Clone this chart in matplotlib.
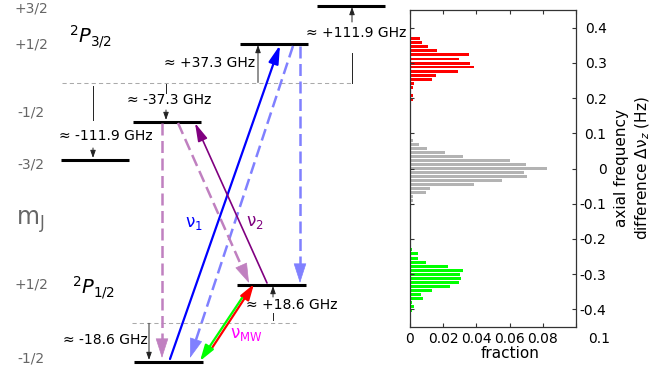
"""Fine-structure level scheme of the 2P states with a histogram of axial frequency differences."""

import numpy as np
import matplotlib

matplotlib.use("Agg")
import matplotlib.pyplot as plt
from matplotlib.transforms import ScaledTranslation

plt.rcParams["axes.unicode_minus"] = False
plt.rcParams["font.family"] = ["DejaVu Sans"]

# ---- histogram data (bin centre in Hz, fraction of events) ----
red_center = [0.370, 0.358, 0.347, 0.336, 0.323, 0.311, 0.299, 0.288, 0.276,
              0.265, 0.253, 0.242, 0.230, 0.208, 0.196]
red_frac = [0.0061, 0.0071, 0.0107, 0.0162, 0.0356, 0.0295, 0.0362, 0.0386, 0.0289,
            0.0156, 0.0131, 0.0022, 0.0016, 0.0016, 0.0016]

grey_center = [0.080, 0.068, 0.057, 0.045, 0.034, 0.023, 0.011, 0.0, -0.011,
               -0.023, -0.034, -0.046, -0.057, -0.068, -0.080, -0.091]
grey_frac = [0.0016, 0.0055, 0.0101, 0.0212, 0.0319, 0.0600, 0.0697, 0.0828, 0.0689,
             0.0707, 0.0556, 0.0386, 0.0119, 0.0095, 0.0016, 0.0016]

green_center = [-0.185, -0.219, -0.230, -0.242, -0.255, -0.267, -0.278, -0.289, -0.301,
                -0.312, -0.324, -0.335, -0.346, -0.358, -0.369, -0.380, -0.392, -0.403,
                -0.415, -0.426]
green_frac = [0.0004, 0.0008, 0.0012, 0.0048, 0.0048, 0.0097, 0.0230, 0.0321, 0.0303,
              0.0309, 0.0297, 0.0242, 0.0133, 0.0067, 0.0079, 0.0012, 0.0024, 0.0010,
              0.0005, 0.0005]

x_ticks = [0, 0.02, 0.04, 0.06, 0.08, 0.1]
x_tick_labels = ["0", "0.02", "0.04", "0.06", "0.08", ""]
y_ticks = [0.4, 0.3, 0.2, 0.1, 0, -0.1, -0.2, -0.3, -0.4]
y_tick_labels = ["0.4", "0.3", "0.2", "0.1", "0", "-0.1", "-0.2", "-0.3", "-0.4"]

# ---- level scheme (schematic, panel units = pixels, y downwards) ----
level_x0 = [317, 240, 133, 61, 237, 134]
level_x1 = [385, 308, 201, 129, 306, 203]
level_y = [5.5, 43.5, 121.5, 159.5, 284.5, 361.5]

mj_labels = ["+3/2", "+1/2", "-1/2", "-3/2", "+1/2", "-1/2"]
mj_y = [8, 44, 113, 165, 284, 358]

center_y = [82.5, 323.3]
center_x0 = [62, 132]
center_x1 = [352, 296]

shift_labels = ["≈ +111.9 GHz", "≈ +37.3 GHz", "≈ -37.3 GHz",
                "≈ -111.9 GHz", "≈ +18.6 GHz", "≈ -18.6 GHz"]
shift_x = [352, 258, 166, 93, 273, 149]
shift_from = [82.5, 82.5, 84, 86, 320, 323.3]
shift_to = [7, 45, 120, 158, 286, 360]
shift_gap = [(53, 22), None, (93, 110), (120, 148), (313, 297), None]
shift_text_x = [356, 210, 169, 106, 292, 105]
shift_text_y = [33, 63, 100, 136, 305, 340]

# transitions: start, end, colour, dashed, linewidth
transitions = [
    ((293, 46), (190, 358), "#8080ff", True, 1.8),
    ((300, 46), (300, 283), "#8080ff", True, 1.8),
    ((162, 123), (162, 358), "#c080c0", True, 1.8),
    ((178, 123), (249, 283), "#c080c0", True, 1.8),
    ((170, 359), (280, 45), "#0000ff", False, 1.6),
    ((267, 283), (195, 123), "#800080", False, 1.2),
    ((212, 348), (254, 284), "#ff0000", False, 1.6),
    ((242, 298), (200, 361), "#00ff00", False, 1.6),
]


def draw_arrow(ax, start, end, color, lw, dashed=False, head=(1.25, 0.45), zorder=3):
    """Draw an arrow with a filled head; dashed body keeps a solid head."""
    x0, y0 = start
    x1, y1 = end
    hl, hw = head
    if dashed:
        length = np.hypot(x1 - x0, y1 - y0)
        ux, uy = (x1 - x0) / length, (y1 - y0) / length
        head_px = hl * 10 * 100 / 72
        bx, by = x1 - ux * head_px, y1 - uy * head_px
        ax.plot([x0, bx], [y0, by], color=color, lw=lw, ls=(0, (4.8, 2.2)),
                dash_capstyle="butt", zorder=zorder)
        start = (bx - ux * 0.5, by - uy * 0.5)
        lw = 0.5
    ax.annotate("", xy=end, xytext=start,
                arrowprops=dict(arrowstyle=f"-|>,head_length={hl},head_width={hw}",
                                color=color, lw=lw, shrinkA=0, shrinkB=0,
                                mutation_scale=10),
                zorder=zorder)


def draw_scheme(ax):
    """Draw the energy level diagram."""
    ax.set_xlim(0, 662)
    ax.set_ylim(372, 0)
    ax.axis("off")

    for x0, x1, y in zip(level_x0, level_x1, level_y):
        ax.plot([x0, x1], [y, y], color="black", lw=2.2, solid_capstyle="butt", zorder=2)

    for y, x0, x1 in zip(center_y, center_x0, center_x1):
        ax.plot([x0, x1], [y, y], color="#aaaaaa", lw=0.75, ls=(0, (4, 3)), zorder=1)

    for lab, y in zip(mj_labels, mj_y):
        ax.text(31, y, lab, color="#666666", fontsize=10, ha="center", va="center")
    ax.text(30, 222, r"m$_\mathregular{J}$", color="#666666", fontsize=17,
            ha="center", va="center")
    ax.text(91, 37, r"$^2P_{3/2}$", fontsize=14, ha="center", va="center")
    ax.text(94, 288, r"$^2P_{1/2}$", fontsize=14, ha="center", va="center")

    thin = dict(color="#222222", lw=0.7)
    for i, lab in enumerate(shift_labels):
        x = shift_x[i]
        start = shift_from[i]
        gap = shift_gap[i]
        if gap is not None:
            ax.plot([x, x], [start, gap[0]], zorder=1, **thin)
            start = gap[1]
        draw_arrow(ax, (x, start), (x, shift_to[i]), thin["color"], thin["lw"],
                   head=(0.45, 0.16), zorder=1)
        ax.text(shift_text_x[i], shift_text_y[i], lab, fontsize=10,
                ha="center", va="center")

    for start, end, color, dashed, lw in transitions:
        if dashed:
            draw_arrow(ax, start, end, color, lw, dashed=True, head=(1.3, 0.42))
        elif color in ("#ff0000", "#00ff00"):
            draw_arrow(ax, start, end, color, lw, head=(0.95, 0.3))
        else:
            draw_arrow(ax, start, end, color, lw, head=(1.1, 0.3))

    ax.text(194, 223, r"ν$_1$", color="#0000ff", fontsize=12, ha="center", va="center")
    ax.text(255, 222, r"ν$_2$", color="#800080", fontsize=12, ha="center", va="center")
    ax.text(246, 334, r"ν$_\mathregular{MW}$", color="#ff00ff", fontsize=12,
            ha="center", va="center")


def draw_histogram(fig):
    """Draw the horizontal histogram of axial frequency differences."""
    ax = fig.add_axes([410 / 662, 45 / 372, 166 / 662, 317 / 372])
    h = 0.0078
    ax.barh(red_center, red_frac, height=h, color="#ff0000", lw=0)
    ax.barh(grey_center, grey_frac, height=h, color="#b3b3b3", lw=0)
    ax.barh(green_center, green_frac, height=h, color="#00ff00", lw=0)
    ax.set_xlim(0, 0.1)
    ax.set_ylim(-0.45, 0.45)
    ax.set_xticks(x_ticks)
    ax.set_xticklabels(x_tick_labels)
    ax.set_yticks(y_ticks)
    ax.set_yticklabels(y_tick_labels)
    ax.tick_params(direction="in", top=True, right=True, left=True, length=3,
                   width=0.8, labelsize=10, color="#333333")
    ax.tick_params(axis="x", pad=3.5)
    ax.tick_params(axis="y", labelleft=False, labelright=True, pad=22)
    for tick in ax.yaxis.get_major_ticks():
        tick.label2.set_horizontalalignment("right")
    for spine in ax.spines.values():
        spine.set_color("#333333")
        spine.set_linewidth(0.9)

    shift = ScaledTranslation(23 / 100, -3.5 / 72, fig.dpi_scale_trans)
    ax.text(0.1, -0.45, "0.1", fontsize=10, ha="center", va="top",
            transform=ax.transData + shift)

    fig.text(510 / 662, 1 - 354 / 372, "fraction", fontsize=11, ha="center", va="center")
    fig.text(633 / 662, 1 - 168.5 / 372, "axial frequency\ndifference Δν$_z$ (Hz)",
             fontsize=11, rotation=90, ha="center", va="center",
             multialignment="center", linespacing=1.35)


def main():
    fig = plt.figure(figsize=(6.62, 3.72), dpi=100)
    ax = fig.add_axes([0, 0, 1, 1])
    draw_scheme(ax)
    draw_histogram(fig)
    fig.savefig("out.png", dpi=100)
    plt.close(fig)


if __name__ == "__main__":
    main()
